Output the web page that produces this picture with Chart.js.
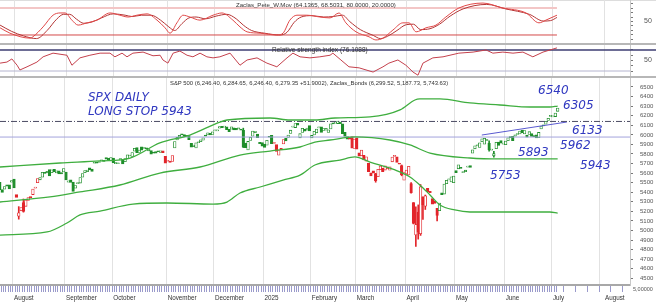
<!DOCTYPE html>
<html>
<head>
<meta charset="utf-8">
<script src="https://cdn.jsdelivr.net/npm/chart.js@4.4.1/dist/chart.umd.min.js"></script>
<style>
body { margin: 0; background: #fff; width: 656px; height: 302px; overflow: hidden; position: relative; font-family: "Liberation Sans", Arial, sans-serif; }
canvas { position: absolute; left: 0; }
.sep { position: absolute; left: 0; width: 656px; background: #b7b7b7; }
.ttl { position: absolute; white-space: nowrap; color: #333; line-height: 1; }
.pen { position: absolute; white-space: nowrap; color: #3038c0; font: oblique 12px "DejaVu Sans"; line-height: 1; }
</style>
</head>
<body>
<div class="sep" style="top:0;height:1px;background:#ddd"></div>
<canvas id="osc" width="656" height="43" style="top:0"></canvas>
<div class="sep" style="top:43px;height:2px"></div>
<canvas id="rsi" width="656" height="31" style="top:45px"></canvas>
<div class="sep" style="top:76px;height:2px"></div>
<canvas id="main" width="656" height="224" style="top:78px"></canvas>

<div class="ttl" style="left:236px;top:2px;font-size:6.1px">Zaclas_Pete_W.Mov (64.1365, 68.5031, 80.0000, 20.0000)</div>
<div class="ttl" style="left:272px;top:47px;font-size:6.5px">Relative strength index (76.1088)</div>
<div class="ttl" style="left:170px;top:81px;font-size:5.9px">S&amp;P 500 (6,246.40, 6,284.65, 6,246.40, 6,279.35 +51.9002), Zaclas_Bonds (6,299.52, 5,187.73, 5,743.63)</div>
<div class="ttl" style="left:633px;top:287px;font-size:5.5px;color:#555">5,00000</div>

<div class="pen" style="left:88px;top:90.5px">SPX DAILY</div>
<div class="pen" style="left:88px;top:104.5px">LONG STOP 5943</div>
<div class="pen" style="left:538px;top:83.5px">6540</div>
<div class="pen" style="left:563px;top:98.5px">6305</div>
<div class="pen" style="left:572px;top:123.5px">6133</div>
<div class="pen" style="left:560px;top:138.5px">5962</div>
<div class="pen" style="left:518px;top:145.5px">5893</div>
<div class="pen" style="left:580px;top:158.5px">5943</div>
<div class="pen" style="left:490px;top:168.5px">5753</div>

<script>
// trading day index 0 = 22 Jul 2024, last = 3 Jul 2025
var closes = [
  5564, 5555, 5427, 5399, 5459, 5464, 5436, 5522, 5446, 5346,
  5186, 5240, 5199, 5319, 5344, 5344, 5434, 5455, 5543, 5554,
  5608, 5597, 5620, 5571, 5634, 5616, 5625, 5592, 5592, 5648,
  5528, 5520, 5503, 5408, 5471, 5496, 5554, 5596, 5626, 5633,
  5634, 5618, 5713, 5703, 5718, 5732, 5722, 5745, 5738, 5762,
  5709, 5709, 5699, 5751, 5696, 5751, 5792, 5780, 5815, 5859,
  5815, 5842, 5841, 5864, 5853, 5851, 5797, 5809, 5808, 5823,
  5832, 5813, 5705, 5728, 5712, 5783, 5929, 5973, 5996, 6001,
  5984, 5985, 5949, 5871, 5894, 5917, 5917, 5948, 5969, 5987,
  6021, 5999, 6032, 6047, 6050, 6087, 6075, 6090, 6053, 6034,
  6084, 6051, 6051, 6074, 6050, 5872, 5867, 5931, 5974, 6040,
  6037, 5971, 5907, 5882, 5869, 5942, 5975, 5909, 5918, 5827,
  5836, 5843, 5950, 5937, 5997, 6049, 6086, 6119, 6101, 6012,
  6068, 6039, 6071, 6041, 5994, 6038, 6061, 6084, 6026, 6066,
  6069, 6052, 6115, 6115, 6129, 6144, 6117, 6013, 5983, 5955,
  5956, 5861, 5955, 5850, 5778, 5842, 5739, 5770, 5615, 5572,
  5599, 5522, 5639, 5675, 5615, 5675, 5663, 5667, 5768, 5777,
  5712, 5693, 5581, 5612, 5633, 5671, 5397, 5074, 5062, 4982,
  5457, 5268, 5363, 5406, 5397, 5276, 5283, 5158, 5288, 5376,
  5485, 5525, 5529, 5561, 5569, 5604, 5687, 5650, 5607, 5631,
  5664, 5660, 5844, 5886, 5892, 5917, 5958, 5964, 5941, 5845,
  5842, 5803, 5922, 5889, 5912, 5912, 5936, 5970, 5971, 5939,
  6000, 6006, 6039, 6022, 6045, 5977, 6033, 5983, 5981, 5967,
  6025, 6092, 6092, 6141, 6173, 6205, 6198, 6227, 6279
];
var opens = [
  5505, 5565, 5505, 5428, 5433, 5477, 5479, 5505, 5537, 5376,
  5151, 5206, 5293, 5253, 5314, 5352, 5376, 5442, 5501, 5530,
  5557, 5603, 5603, 5637, 5604, 5639, 5602, 5624, 5607, 5612,
  5612, 5506, 5530, 5507, 5443, 5490, 5496, 5557, 5604, 5615,
  5655, 5641, 5703, 5709, 5711, 5728, 5733, 5762, 5755, 5727,
  5758, 5698, 5698, 5737, 5737, 5719, 5751, 5779, 5775, 5829,
  5866, 5816, 5875, 5859, 5858, 5833, 5835, 5813, 5826, 5831,
  5816, 5833, 5775, 5724, 5725, 5722, 5864, 5947, 5977, 6009,
  6004, 5986, 5990, 5912, 5876, 5864, 5917, 5928, 5944, 5992,
  6000, 6015, 6004, 6041, 6042, 6069, 6089, 6081, 6083, 6057,
  6060, 6074, 6068, 6063, 6052, 6047, 5913, 5843, 5941, 5985,
  6024, 6007, 5921, 5920, 5903, 5892, 5982, 5994, 5911, 5897,
  5788, 5859, 5905, 5963, 5973, 6015, 6081, 6076, 6121, 5969,
  6026, 6058, 6050, 6096, 5969, 5998, 6021, 6072, 6083, 6047,
  6049, 6025, 6061, 6116, 6122, 6118, 6134, 6115, 6027, 5982,
  5971, 5981, 5857, 5969, 5812, 5781, 5786, 5726, 5705, 5604,
  5624, 5594, 5563, 5635, 5654, 5632, 5646, 5630, 5718, 5775,
  5771, 5696, 5679, 5527, 5597, 5580, 5492, 5292, 4953, 5193,
  4966, 5353, 5255, 5441, 5411, 5335, 5305, 5232, 5207, 5395,
  5381, 5489, 5529, 5508, 5500, 5626, 5645, 5655, 5605, 5614,
  5663, 5680, 5808, 5854, 5886, 5869, 5929, 5903, 5944, 5911,
  5841, 5781, 5855, 5925, 5939, 5903, 5897, 5938, 5978, 5985,
  5987, 6004, 6009, 6049, 6010, 5997, 6005, 6012, 5988, 5999,
  5970, 6062, 6105, 6112, 6151, 6193, 6187, 6191, 6246
];
// [day, low, high] for the long shadows that show at this size
var wicks = [
  [10, 5119, 5250], [12, 5192, 5330], [105, 5867, 6070], [161, 5505, 5598],
  [172, 5572, 5685], [176, 5390, 5500], [177, 5069, 5292], [178, 4835, 5247],
  [179, 4910, 5268], [180, 4949, 5481], [181, 5115, 5353], [182, 5220, 5371],
  [187, 5101, 5232], [209, 5830, 5938], [211, 5767, 5829]
];
// stretches where the bars are painted red
var redRanges = [[9, 18], [71, 75], [118, 122], [150, 187]];

// Zaclas_Bonds envelope, [day, price]
var bandUpper = [
  [2, 5664], [27.5, 5706], [44.4, 5727], [57.1, 5758], [69.7, 5915], [82.4, 5998],
  [95.1, 6134], [98.1, 6155], [116.3, 6176], [124.7, 6155], [135.3, 6155], [143.8, 6176],
  [158.6, 6187], [171.3, 6260], [177.6, 6364], [179.7, 6375], [188.2, 6375], [200.9, 6333],
  [213.6, 6312], [226.3, 6291], [234.7, 6291], [238, 6301]
];
var bandMiddle = [
  [2, 5298], [23.2, 5351], [35.9, 5403], [52.8, 5476], [69.7, 5601], [86.7, 5664],
  [103.6, 5789], [116.3, 5831], [129, 5873], [135.3, 5925], [141.7, 5946], [152.2, 5978],
  [167, 5946], [175.5, 5894], [184, 5810], [200.9, 5758], [213.6, 5748], [238, 5748]
];
var bandLower = [
  [2, 4953], [22, 4985], [30.4, 5079], [35.9, 5163], [44.4, 5204], [58.3, 5277],
  [72.7, 5288], [92.2, 5277], [98.1, 5298], [103.6, 5392], [112.1, 5455], [121.8, 5528],
  [129, 5580], [135.3, 5685], [145.9, 5737], [152.2, 5769], [158.6, 5716], [169.2, 5633],
  [175.5, 5560], [179.7, 5476], [184, 5371], [188.2, 5267], [194.5, 5215], [200.9, 5194],
  [234.7, 5194], [238, 5183]
];
var highLine = 6140;
var supportLine = 5977;
var trendLine = [[205.9, 5998], [241.9, 6134]];

// Zaclas_Pete_W.Mov, two lines, [day, value]
var peteFast = [
  [2.1, 36], [6.3, 24], [14.8, 13], [16, 16], [20.3, 38], [24.5, 64], [27.5, 69], [29.6, 69],
  [32.5, 53], [35.1, 42], [38.9, 47], [43.1, 53], [48.6, 69], [52.8, 64], [56.2, 60], [60, 64],
  [64.3, 67], [68.5, 53], [71.9, 36], [74, 24], [76.9, 47], [79.5, 64], [82.4, 60], [86.7, 53],
  [92.2, 64], [96, 69], [100.6, 53], [103.6, 38], [106.6, 27], [112.1, 24], [119.2, 20],
  [121.8, 24], [124.7, 53], [127.7, 64], [131.9, 64], [137.4, 60], [141.7, 58], [145.5, 69],
  [148.4, 47], [152.7, 27], [158.2, 16], [161.1, 9], [164.1, 13], [168.3, 31], [172.5, 47],
  [175.1, 47], [178.1, 27], [182.3, 36], [186.5, 42], [190.7, 60], [196.2, 80], [206.4, 91],
  [214.8, 80], [224.6, 69], [230.1, 47], [233, 53], [237.7, 64]
];
var peteSlow = [
  [2.1, 42], [7, 28], [12, 18], [17.5, 12], [22, 30], [26, 55], [29, 66], [31.5, 66],
  [34.5, 55], [37.5, 46], [41, 49], [45, 58], [50, 67], [55, 64], [58, 61], [62, 64],
  [66, 64], [70, 53], [73.5, 38], [76, 30], [79, 45], [82, 58], [85, 60], [89, 56],
  [93.5, 62], [98, 66], [102, 56], [105, 42], [108.5, 30], [114, 24], [120.5, 20], [123.5, 26],
  [126.5, 48], [129.5, 60], [134, 63], [139, 60], [143, 61], [147, 64], [150, 50], [154.5, 32],
  [160, 19], [163, 12], [166, 17], [170, 30], [174, 43], [177, 44], [180, 32], [184, 34],
  [188, 44], [192.5, 62], [198, 78], [208, 88], [216, 78], [226, 66], [232, 51], [235, 52],
  [237.7, 59]
];
var peteLevels = [80, 20];

// Relative strength index, [day, value]
var rsi = [
  [2.1, 45], [5, 47], [7.1, 53], [9.3, 41], [10.5, 32], [13.5, 38], [17.7, 47], [20.3, 57],
  [24.5, 64], [30.4, 60], [32.5, 41], [35.9, 55], [40.1, 60], [44.4, 64], [48.6, 64], [50.7, 57],
  [53.7, 64], [55.8, 57], [58.3, 64], [62.6, 66], [66.8, 59], [69.8, 60], [71, 51], [73.1, 45],
  [75.3, 64], [78.2, 68], [81.2, 60], [83.7, 57], [86.7, 64], [89.6, 57], [92.2, 55], [95.1, 57],
  [99.4, 64], [103.6, 41], [106.6, 51], [110.8, 55], [115, 45], [119.2, 38], [123.5, 55], [126, 64],
  [129, 57], [133.2, 55], [137.4, 57], [141.7, 60], [142.9, 64], [146.3, 51], [149.7, 38], [154, 36],
  [159.9, 28], [164.1, 38], [166.6, 45], [170.4, 51], [173.8, 41], [176.8, 28], [178.9, 22], [181, 45],
  [185.2, 55], [189.5, 57], [196.2, 64], [202.2, 66], [207.7, 70], [210.6, 64], [214.8, 66], [219.1, 64],
  [223.3, 66], [227.5, 57], [231.8, 66], [237.7, 74]
];
var rsiLevels = [70, 30];

// date axis
var monthStarts = [8, 30, 50, 73, 93, 114, 134, 153, 174, 195, 216, 236, 258];
var monthLabels = ['August', 'September', 'October', 'November', 'December', '2025',
  'February', 'March', 'April', 'May', 'June', 'July', 'August'];
var priceTicks = [4500, 4600, 4700, 4800, 4900, 5000, 5100, 5200, 5300, 5400, 5500,
  5600, 5700, 5800, 5900, 6000, 6100, 6200, 6300, 6400, 6500];

var X_MIN = 2.07, X_MAX = 268.6;
var RED = '#e2252b', GREEN = '#1e8e2a', BAND = '#3fae3f';

var dayTicks = [];
for (var d = 0; d < closes.length; d++) dayTicks.push(d);
for (var w = 243; w <= 268; w += 5) dayTicks.push(w);

function barColor(i) {
	for (var k = 0; k < redRanges.length; k++) {
		if (i >= redRanges[k][0] && i <= redRanges[k][1]) return RED;
	}
	return GREEN;
}

function pts(list) {
	return list.map(function(p) { return {x: p[0], y: p[1]}; });
}

function flat(value, from, to) {
	return [{x: from, y: value}, {x: to, y: value}];
}

function xAxis(withLabels) {
	return {
		type: 'linear', min: X_MIN, max: X_MAX, offset: false,
		afterBuildTicks: function(s) {
			s.ticks = (withLabels ? dayTicks : monthStarts).map(function(v) { return {value: v}; });
		},
		grid: {
			color: function(c) {
				return c.tick && monthStarts.indexOf(c.tick.value) >= 0 ? '#e2e2e2' : 'rgba(0,0,0,0)';
			},
			drawTicks: withLabels, tickLength: 7, tickColor: '#9a9acb', lineWidth: 1
		},
		border: {display: withLabels, color: '#a8a8a8', width: 2},
		ticks: {
			display: withLabels, autoSkip: false, maxRotation: 0, minRotation: 0,
			align: 'start', padding: 2, color: '#333',
			font: {family: 'Liberation Sans', size: 6.3},
			callback: function(v) {
				var k = monthStarts.indexOf(v);
				return k < 0 ? '' : monthLabels[k];
			}
		},
		afterFit: function(s) {
			s.height = withLabels ? 17 : 0;
			s.paddingLeft = 0;
			s.paddingRight = 0;
		}
	};
}

function yAxis(min, max, tickValues, shown, size, pad) {
	return {
		type: 'linear', position: 'right', min: min, max: max,
		afterBuildTicks: function(s) {
			s.ticks = tickValues.map(function(v) { return {value: v}; });
		},
		grid: {drawOnChartArea: false, tickLength: 3, tickColor: '#777'},
		border: {color: '#c8c8c8'},
		ticks: {
			autoSkip: false, padding: pad, color: '#555',
			font: {family: 'Liberation Sans', size: size},
			callback: function(v) { return shown(v) ? String(v) : ''; }
		},
		afterFit: function(s) {
			s.width = 26;
			s.paddingTop = 0;
			s.paddingBottom = 0;
		}
	};
}

var common = {
	responsive: false, animation: false, events: [],
	layout: {padding: 0},
	plugins: {legend: {display: false}, tooltip: {enabled: false}}
};

function line(data, color, width, extra) {
	var ds = {
		type: 'line', data: data, borderColor: color, borderWidth: width,
		pointRadius: 0, fill: false, cubicInterpolationMode: 'monotone', order: 1
	};
	for (var k in extra) ds[k] = extra[k];
	return ds;
}

// oscillator panel
new Chart(document.getElementById('osc'), {
	type: 'line',
	data: {datasets: [
		line(pts(peteFast), '#e04848', 1, {}),
		line(pts(peteSlow), '#b33434', 1, {}),
		line(flat(peteLevels[0], X_MIN, 237.7), '#f3c6c6', 2, {}),
		line(flat(peteLevels[1], X_MIN, 237.7), '#d44a4a', 1, {})
	]},
	options: Object.assign({}, common, {
		scales: {
			x: xAxis(false),
			y: yAxis(2.2, 97.8, [10, 20, 30, 40, 50, 60, 70, 80, 90],
				function(v) { return v === 50; }, 7, 11)
		}
	})
});

// RSI panel
new Chart(document.getElementById('rsi'), {
	type: 'line',
	data: {datasets: [
		line(pts(rsi), '#c4404c', 1, {cubicInterpolationMode: 'default', tension: 0}),
		line(flat(rsiLevels[0], 0, 282), '#3c3c72', 1.5, {clip: false}),
		line(flat(rsiLevels[1], X_MIN, X_MAX), '#b4b4cf', 1, {})
	]},
	options: Object.assign({}, common, {
		scales: {
			x: xAxis(false),
			y: yAxis(20.5, 79.5, [30, 40, 50, 60, 70],
				function(v) { return v === 50; }, 7, 11)
		}
	})
});

// price panel
var bodies = closes.map(function(c, i) { return {x: i, y: [opens[i], c]}; });
var shadows = wicks.map(function(w) { return {x: w[0], y: [w[1], w[2]]}; });

new Chart(document.getElementById('main'), {
	type: 'bar',
	data: {datasets: [
		line(pts(bandUpper), BAND, 1.3, {}),
		line(pts(bandMiddle), BAND, 1.3, {}),
		line(pts(bandLower), BAND, 1.3, {}),
		line(flat(highLine, X_MIN, X_MAX), '#4a4a62', 1, {borderDash: [6, 2, 1, 2]}),
		line(flat(supportLine, X_MIN, X_MAX), '#a3a3dc', 1, {}),
		line(pts(trendLine), '#5a5ad0', 1, {}),
		{
			type: 'bar', data: shadows, grouped: false, order: 3,
			barThickness: 1, backgroundColor: wicks.map(function(w) { return barColor(w[0]); })
		},
		{
			type: 'bar', data: bodies, grouped: false, order: 2,
			barThickness: 2.6, minBarLength: 1, borderWidth: 0.8, borderSkipped: false,
			borderColor: closes.map(function(c, i) { return barColor(i); }),
			backgroundColor: closes.map(function(c, i) { return c >= opens[i] ? '#ffffff' : barColor(i); })
		}
	]},
	options: Object.assign({}, common, {
		scales: {
			x: xAxis(true),
			y: yAxis(4431, 6594, priceTicks, function() { return true; }, 6, 7)
		}
	})
});
</script>
</body>
</html>
